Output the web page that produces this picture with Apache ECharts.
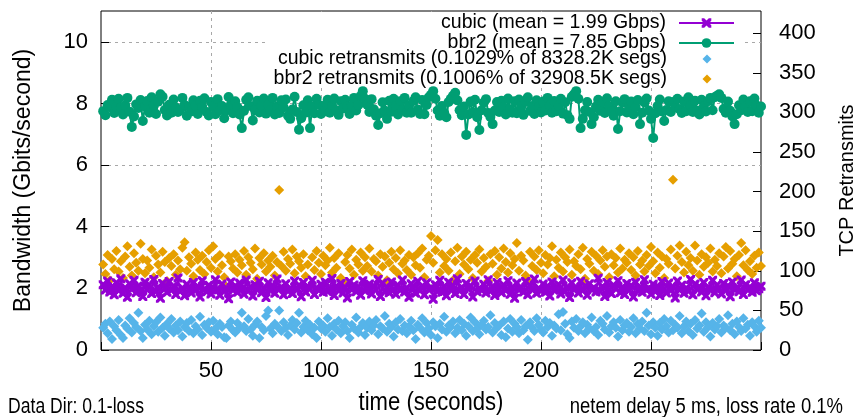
<!DOCTYPE html>
<html>
<head>
<meta charset="utf-8">
<script src="https://cdn.jsdelivr.net/npm/echarts@6/dist/echarts.min.js"></script>
<style>
  html, body { margin: 0; padding: 0; background: #fff; }
  #chart { width: 858px; height: 417px; }
</style>
</head>
<body>
<div id="chart"></div>
<script>
// Throughput per second (Gbits/s), 300 one-second samples each
const cubicGbps = [
  2.12, 1.95, 2.24, 1.88, 2.05, 1.79, 2.18, 1.93, 2.31, 1.84, 2.02, 1.71, 2.15, 1.97, 2.26, 1.86, 2.08, 1.92, 1.74, 2.20,
  1.96, 2.11, 1.83, 2.29, 1.90, 2.04, 1.68, 2.16, 1.99, 1.87, 2.22, 1.94, 2.07, 1.80, 2.34, 1.91, 2.01, 1.76, 2.13, 1.98,
  1.85, 2.19, 1.93, 2.06, 1.72, 2.25, 1.97, 1.89, 2.10, 1.82, 2.03, 2.28, 1.95, 1.78, 2.14, 1.90, 2.00, 1.66, 2.21, 1.94,
  2.08, 1.87, 2.17, 1.99, 1.81, 2.27, 1.92, 2.05, 1.75, 2.12, 1.96, 2.23, 1.86, 2.01, 1.70, 2.18, 1.93, 2.09, 1.84, 2.30,
  1.97, 2.04, 1.79, 2.15, 1.91, 2.00, 1.83, 2.24, 1.95, 2.10, 1.73, 2.19, 1.88, 2.06, 1.98, 2.26, 1.80, 2.02, 1.94, 2.13,
  1.87, 2.20, 1.90, 1.99, 2.32, 1.77, 2.07, 1.93, 2.16, 1.85, 2.03, 1.69, 2.22, 1.96, 2.11, 1.89, 2.05, 1.78, 2.25, 1.92,
  2.00, 2.14, 1.82, 2.08, 1.95, 2.29, 1.74, 2.17, 1.90, 2.04, 1.86, 2.21, 1.97, 1.81, 2.10, 1.94, 2.27, 1.88, 2.02, 1.71,
  2.15, 1.99, 1.84, 2.23, 1.93, 2.07, 1.79, 2.18, 1.96, 2.01, 1.65, 2.12, 1.90, 2.26, 1.87, 2.05, 1.76, 2.20, 1.95, 2.09,
  1.83, 2.31, 1.92, 2.03, 1.80, 2.16, 1.98, 2.08, 1.72, 2.24, 1.89, 2.00, 1.94, 2.13, 1.85, 2.28, 1.91, 2.06, 1.77, 2.19,
  1.97, 1.86, 2.11, 1.93, 2.25, 1.81, 2.04, 1.68, 2.17, 1.95, 2.02, 1.88, 2.22, 1.79, 2.09, 1.96, 2.30, 1.84, 2.00, 1.92,
  2.14, 1.87, 2.07, 1.75, 2.21, 1.94, 1.99, 2.12, 1.82, 2.27, 1.90, 2.05, 1.70, 2.18, 1.96, 2.01, 1.85, 2.23, 1.93, 2.08,
  1.78, 2.15, 1.97, 2.02, 1.88, 2.33, 1.91, 2.06, 1.74, 2.19, 1.95, 1.83, 2.10, 1.99, 2.25, 1.86, 2.03, 1.80, 2.16, 1.94,
  2.09, 1.72, 2.20, 1.92, 2.04, 1.87, 2.28, 1.96, 2.00, 1.81, 2.13, 1.90, 2.07, 1.77, 2.22, 1.98, 1.85, 2.17, 1.93, 2.05,
  1.69, 2.24, 1.95, 2.10, 1.84, 2.01, 1.91, 2.29, 1.79, 2.14, 1.97, 2.06, 1.88, 2.19, 1.76, 2.03, 1.94, 2.26, 1.86, 2.11,
  1.99, 1.82, 2.16, 1.93, 2.08, 1.73, 2.21, 1.96, 2.02, 1.89, 2.27, 1.80, 2.12, 1.95, 2.04, 1.87, 2.18, 1.92, 1.99, 2.07
];

const bbr2Gbps = [
  7.75, 7.62, 7.95, 7.88, 8.12, 7.69, 7.91, 8.15, 7.86, 7.64, 7.94, 8.18, 7.73, 7.24, 7.58, 7.97, 7.85, 8.11, 7.43, 7.90,
  8.08, 7.70, 8.20, 7.93, 7.66, 8.06, 8.30, 8.22, 7.79, 7.61, 7.96, 7.70, 8.13, 7.87, 7.72, 7.80, 8.18, 7.95, 7.60, 7.90,
  7.74, 8.10, 7.93, 7.66, 8.09, 7.88, 8.17, 7.72, 7.61, 8.05, 7.90, 7.65, 8.14, 7.78, 7.92, 7.52, 7.77, 8.21, 7.95, 7.68,
  8.07, 7.88, 7.64, 7.20, 7.76, 8.12, 8.20, 7.92, 7.45, 7.80, 8.09, 7.71, 7.93, 8.16, 7.67, 7.96, 7.78, 8.18, 7.64, 7.91,
  7.69, 8.10, 7.87, 8.13, 7.60, 7.50, 7.80, 8.22, 7.72, 7.15, 7.52, 7.94, 7.70, 8.10, 7.20, 7.90, 7.68, 8.15, 7.95, 7.66,
  7.92, 7.75, 8.12, 7.70, 7.94, 8.16, 7.78, 7.63, 8.07, 7.84, 8.12, 7.90, 7.66, 7.93, 8.18, 7.77, 7.95, 8.24, 8.40, 8.15,
  7.96, 7.72, 8.14, 7.81, 7.60, 7.30, 7.68, 8.04, 7.76, 7.50, 8.09, 7.73, 8.15, 7.92, 7.64, 8.07, 7.78, 8.18, 7.70, 7.93,
  7.70, 8.08, 8.20, 7.80, 7.66, 8.11, 7.65, 7.95, 8.20, 8.28, 8.40, 8.15, 7.77, 7.60, 7.92, 7.70, 7.55, 8.05, 8.15, 8.25,
  8.35, 8.10, 7.78, 7.62, 7.90, 6.98, 7.64, 8.06, 7.71, 8.12, 7.55, 7.14, 7.78, 8.03, 8.14, 7.69, 7.56, 7.33, 7.77, 8.05,
  7.72, 8.09, 7.88, 7.64, 8.16, 7.81, 7.70, 8.07, 7.68, 8.13, 7.90, 7.63, 8.05, 8.20, 7.76, 7.92, 7.66, 8.10, 7.89, 7.71,
  8.06, 7.77, 8.18, 7.93, 7.70, 8.08, 7.75, 7.92, 8.15, 7.67, 8.04, 7.62, 7.50, 8.22, 8.30, 8.40, 8.15, 7.20, 7.50, 7.78,
  8.05, 7.72, 7.33, 7.55, 7.90, 8.12, 7.76, 8.04, 7.69, 8.17, 7.91, 7.74, 7.60, 8.07, 7.17, 7.75, 8.03, 8.14, 7.71, 7.90,
  8.06, 7.65, 7.88, 8.11, 7.33, 7.70, 8.03, 8.16, 7.77, 7.50, 6.88, 7.68, 7.92, 8.13, 7.74, 7.43, 7.79, 8.07, 7.72, 8.05,
  7.88, 8.15, 7.81, 7.69, 8.06, 7.75, 8.20, 7.93, 7.72, 8.09, 7.77, 7.64, 8.12, 7.90, 7.74, 8.07, 8.18, 7.78, 8.20, 8.25,
  8.30, 8.18, 7.82, 7.70, 8.06, 7.76, 7.58, 7.33, 7.65, 7.94, 7.78, 8.13, 7.90, 7.72, 8.07, 7.75, 8.16, 7.93, 7.70, 7.90
];

// TCP retransmits per second
const cubicRetrans = [
  28, 33, 21, 36, 14, 30, 25, 38, 19, 15, 31, 27, 40, 22, 34, 29, 47, 24, 15, 32,
  26, 37, 20, 30, 35, 23, 41, 28, 18, 33, 27, 39, 22, 31, 25, 36, 17, 29, 34, 24,
  38, 21, 30, 26, 42, 19, 32, 28, 35, 23, 37, 27, 20, 33, 29, 16, 15, 31, 36, 25,
  22, 34, 28, 47, 30, 24, 39, 26, 18, 32, 36, 15, 29, 25, 43, 50, 27, 21, 33, 30,
  50, 24, 35, 28, 19, 31, 38, 26, 34, 47, 22, 29, 37, 25, 32, 20, 28, 15, 36, 27,
  31, 23, 40, 29, 18, 33, 26, 37, 21, 30, 35, 24, 15, 32, 27, 41, 22, 29, 34, 19,
  28, 36, 25, 31, 38, 20, 30, 27, 43, 23, 33, 29, 17, 35, 26, 39, 24, 31, 21, 30,
  37, 25, 14, 32, 28, 40, 22, 34, 27, 19, 35, 30, 15, 33, 26, 42, 23, 31, 29, 36,
  21, 28, 38, 25, 33, 18, 30, 41, 24, 35, 27, 20, 32, 37, 26, 29, 44, 22, 34, 28,
  31, 19, 36, 16, 27, 39, 23, 33, 29, 21, 38, 25, 30, 13, 35, 28, 24, 40, 32, 26,
  22, 37, 29, 34, 18, 31, 27, 45, 25, 48, 33, 20, 15, 36, 28, 39, 24, 30, 35, 21,
  32, 27, 41, 24, 29, 19, 37, 33, 26, 43, 22, 30, 35, 28, 17, 38, 25, 31, 34, 23,
  29, 40, 21, 33, 27, 36, 24, 47, 31, 20, 35, 28, 18, 34, 26, 39, 30, 22, 37, 25,
  32, 28, 43, 21, 30, 36, 24, 33, 19, 38, 27, 31, 46, 23, 35, 29, 17, 34, 26, 30,
  39, 22, 31, 28, 44, 25, 33, 20, 36, 29, 24, 40, 27, 32, 18, 35, 30, 23, 37, 28
];

const bbr2Retrans = [
  108, 96, 120, 88, 115, 102, 125, 99, 112, 91, 118, 131, 105, 94, 122, 110, 100, 134, 115, 97,
  113, 104, 127, 92, 119, 108, 98, 124, 111, 87, 116, 106, 121, 95, 113, 102, 129, 136, 100, 117,
  109, 93, 123, 114, 101, 119, 96, 111, 126, 104, 131, 115, 99, 120, 107, 92, 80, 118, 112, 103,
  121, 98, 114, 107, 125, 95, 117, 110, 102, 128, 90, 116, 108, 122, 99, 113, 105, 119, 94, 111,
  202, 106, 124, 100, 115, 109, 127, 97, 118, 112, 104, 121, 93, 108, 80, 117, 101, 125, 110, 96,
  119, 107, 113, 129, 98, 116, 104, 122, 91, 86, 111, 120, 103, 127, 95, 114, 108, 123, 100, 117,
  106, 128, 99, 115, 112, 94, 121, 105, 118, 88, 110, 124, 102, 116, 97, 126, 109, 113, 101, 120,
  95, 117, 107, 122, 104, 128, 92, 114, 119, 144, 110, 126, 139, 98, 121, 106, 115, 100, 123, 88,
  112, 129, 96, 118, 108, 124, 102, 114, 91, 120, 110, 127, 99, 116, 105, 87, 121, 109, 125, 95,
  117, 103, 128, 111, 98, 122, 107, 115, 135, 100, 119, 113, 94, 88, 124, 106, 118, 101, 126, 110,
  97, 120, 108, 116, 131, 93, 114, 104, 123, 99, 117, 111, 127, 95, 112, 106, 121, 102, 129, 90,
  115, 109, 124, 100, 119, 96, 113, 126, 105, 118, 92, 121, 107, 116, 98, 128, 103, 114, 110, 122,
  101, 117, 94, 125, 108, 113, 99, 120, 106, 130, 112, 97, 123, 104, 118, 91, 115, 109, 127, 215,
  103, 119, 132, 111, 98, 124, 107, 116, 100, 132, 113, 95, 121, 105, 117, 110, 128, 99, 114, 106,
  122, 97, 118, 130, 103, 125, 109, 115, 93, 120, 135, 107, 126, 101, 112, 96, 119, 104, 123, 106
];

const seriesNames = [
  'cubic (mean = 1.99 Gbps)',
  'bbr2 (mean = 7.85 Gbps)',
  'cubic retransmits (0.1029% of 8328.2K segs)',
  'bbr2 retransmits (0.1006% of 32908.5K segs)'
];
const colors = ['#9400d3', '#009e73', '#56b4e9', '#e69f00'];
const xTicks = [50, 100, 150, 200, 250];
const xTitle = 'time (seconds)';
const footLeft = 'Data Dir: 0.1-loss';
const footRight = 'netem delay 5 ms, loss rate 0.1%';

// pair each sample with its second (1..300)
const withTime = arr => arr.map((v, i) => [i + 1, v]);

const FONT = '"Liberation Sans", Arial, sans-serif';
const crossPath = 'path://M0,0 L2.6,0 L5,2.4 L7.4,0 L10,0 L10,2.6 L7.6,5 L10,7.4 L10,10 L7.4,10 L5,7.6 L2.6,10 L0,10 L0,7.4 L2.4,5 L0,2.6 Z';
const gridLine = { color: '#a8a8a8', width: 1, type: [3, 4] };
const legendText = { fontFamily: FONT, fontSize: 19.5, color: '#000', lineHeight: 18 };

const chart = echarts.init(document.getElementById('chart'), null, { renderer: 'canvas' });

chart.setOption({
  animation: false,
  backgroundColor: '#fff',
  color: colors,
  grid: {
    left: 101, right: 97, top: 11, bottom: 67,
    outerBoundsMode: 'none',
    show: true, borderColor: '#000', borderWidth: 1, backgroundColor: 'transparent'
  },
  legend: [
    {
      data: seriesNames.slice(0, 2),
      orient: 'vertical', align: 'right',
      right: 123, top: 13,
      itemWidth: 55, itemHeight: 12, itemGap: 0,
      padding: 0,
      textStyle: Object.assign({ padding: [0, 8, 0, 0] }, legendText)
    },
    {
      data: seriesNames.slice(2),
      orient: 'vertical', align: 'right',
      right: 146.5, top: 49,
      itemWidth: 9, itemHeight: 9, itemGap: 0,
      padding: 0,
      textStyle: Object.assign({ padding: [0, 30.5, 0, 0] }, legendText)
    }
  ],
  xAxis: {
    type: 'value', min: 0, max: 300, interval: 50,
    axisLine: { show: false },
    axisTick: { inside: true, length: 8, lineStyle: { color: '#000' } },
    axisLabel: {
      fontFamily: FONT, fontSize: 22, color: '#000', margin: 10,
      formatter: v => (xTicks.indexOf(v) >= 0 ? String(v) : '')
    },
    splitLine: { show: true, showMinLine: false, showMaxLine: false, lineStyle: gridLine }
  },
  yAxis: [
    {
      type: 'value', min: 0, max: 11, interval: 2,
      axisLine: { show: false },
      axisTick: { inside: true, length: 8, lineStyle: { color: '#000' } },
      axisLabel: { fontFamily: FONT, fontSize: 22, color: '#000', margin: 13, showMaxLabel: false },
      splitLine: { show: true, showMinLine: false, showMaxLine: false, lineStyle: gridLine },
      name: 'Bandwidth (Gbits/second)', nameLocation: 'middle', nameGap: 66,
      nameTextStyle: { fontFamily: FONT, fontSize: 23, color: '#000' }
    },
    {
      type: 'value', min: 0, max: 428, interval: 50, position: 'right',
      axisLine: { show: false },
      axisTick: { inside: true, length: 8, lineStyle: { color: '#000' } },
      axisLabel: { fontFamily: FONT, fontSize: 22, color: '#000', margin: 18, showMaxLabel: false },
      splitLine: { show: false },
      name: 'TCP Retransmits', nameLocation: 'middle', nameGap: 76,
      nameTextStyle: { fontFamily: FONT, fontSize: 20, color: '#000' }
    }
  ],
  series: [
    {
      name: seriesNames[0], type: 'line', yAxisIndex: 0,
      data: withTime(cubicGbps),
      symbol: crossPath, symbolSize: 9, showAllSymbol: true,
      lineStyle: { color: colors[0], width: 2 },
      itemStyle: { color: colors[0] }
    },
    {
      name: seriesNames[1], type: 'line', yAxisIndex: 0,
      data: withTime(bbr2Gbps),
      symbol: 'circle', symbolSize: 10, showAllSymbol: true,
      lineStyle: { color: colors[1], width: 2 },
      itemStyle: { color: colors[1] }
    },
    {
      name: seriesNames[2], type: 'scatter', yAxisIndex: 1,
      data: withTime(cubicRetrans),
      symbol: 'diamond', symbolSize: 10,
      itemStyle: { color: colors[2], opacity: 1 }
    },
    {
      name: seriesNames[3], type: 'scatter', yAxisIndex: 1,
      data: withTime(bbr2Retrans),
      symbol: 'diamond', symbolSize: 10,
      itemStyle: { color: colors[3], opacity: 1 }
    }
  ],
  graphic: [
    // opaque key box: hides the grid lines behind the legend
    {
      type: 'rect', z: 1, silent: true,
      shape: { x: 268, y: 12, width: 477, height: 74 },
      style: { fill: '#fff' }
    },
    // condensed captions along the bottom edge
    {
      type: 'text', x: 431, y: 403, scaleX: 0.85,
      style: { text: xTitle, font: '26px ' + FONT, fill: '#000', align: 'center', verticalAlign: 'middle' }
    },
    {
      type: 'text', x: 8, y: 407, scaleX: 0.8,
      style: { text: footLeft, font: '22px ' + FONT, fill: '#000', align: 'left', verticalAlign: 'middle' }
    },
    {
      type: 'text', x: 843, y: 407, scaleX: 0.84,
      style: { text: footRight, font: '22px ' + FONT, fill: '#000', align: 'right', verticalAlign: 'middle' }
    }
  ]
});
</script>
</body>
</html>
